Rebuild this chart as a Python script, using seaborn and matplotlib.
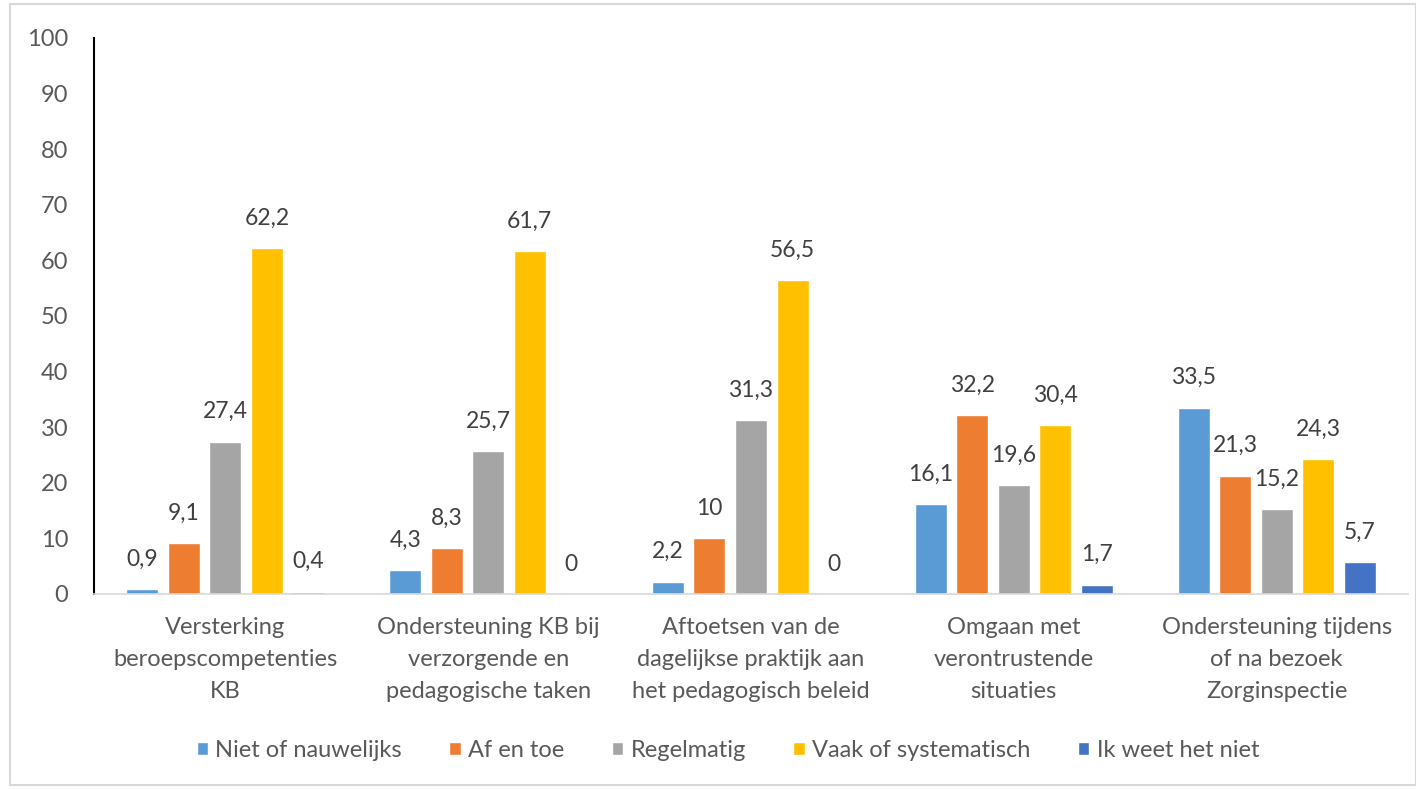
import matplotlib
matplotlib.use("Agg")
import matplotlib.pyplot as plt
import seaborn as sns
import pandas as pd
from matplotlib.patches import Rectangle

categories = [
    "Versterking\nberoepscompetenties\nKB",
    "Ondersteuning KB bij\nverzorgende en\npedagogische taken",
    "Aftoetsen van de\ndagelijkse praktijk aan\nhet pedagogisch beleid",
    "Omgaan met\nverontrustende\nsituaties",
    "Ondersteuning tijdens\nof na bezoek\nZorginspectie",
]
series_names = ["Niet of nauwelijks", "Af en toe", "Regelmatig",
                "Vaak of systematisch", "Ik weet het niet"]
niet_of_nauwelijks = [0.9, 4.3, 2.2, 16.1, 33.5]
af_en_toe = [9.1, 8.3, 10.0, 32.2, 21.3]
regelmatig = [27.4, 25.7, 31.3, 19.6, 15.2]
vaak_of_systematisch = [62.2, 61.7, 56.5, 30.4, 24.3]
ik_weet_het_niet = [0.4, 0.0, 0.0, 1.7, 5.7]
colors = ["#5B9BD5", "#ED7D31", "#A5A5A5", "#FFC000", "#4472C4"]
y_ticks = list(range(0, 101, 10))

series_values = [niet_of_nauwelijks, af_en_toe, regelmatig,
                 vaak_of_systematisch, ik_weet_het_niet]
rows = []
for name, vals in zip(series_names, series_values):
    for cat, v in zip(categories, vals):
        rows.append({"categorie": cat, "reeks": name, "waarde": v})
df = pd.DataFrame(rows)

sns.set_theme(style="white")
plt.rcParams["font.family"] = ["Lato", "DejaVu Sans"]

fig = plt.figure(figsize=(14.16, 7.89), dpi=100)
ax = fig.add_axes([94 / 1416, 1 - 594 / 789, (1408 - 94) / 1416, (594 - 38) / 789])

sns.barplot(data=df, x="categorie", y="waarde", hue="reeks",
            order=categories, hue_order=series_names,
            palette=colors, width=0.79, gap=0.23, saturation=1,
            errorbar=None, ax=ax, legend=True)

for cont in ax.containers:
    ax.bar_label(cont, fmt=lambda v: f"{v:g}".replace(".", ","),
                 padding=14, fontsize=16.5, color="#404040")

ax.set_ylim(0, 100)
ax.set_yticks(y_ticks)
ax.set_xlim(-0.5, len(categories) - 0.5)
ax.set_xlabel("")
ax.set_ylabel("")
ax.tick_params(axis="y", length=0, pad=18.5, labelsize=17, labelcolor="#595959")
ax.tick_params(axis="x", length=0, pad=16.5, labelsize=17, labelcolor="#595959")
for lbl in ax.get_xticklabels():
    lbl.set_linespacing(1.66)

for s in ["top", "right"]:
    ax.spines[s].set_visible(False)
ax.spines["left"].set_color("black")
ax.spines["left"].set_linewidth(1.5)
ax.spines["bottom"].set_color("#D9D9D9")
ax.spines["bottom"].set_linewidth(1.2)

handles, labels = ax.get_legend_handles_labels()
ax.legend_.remove()
fig.legend(handles, labels, loc="center", bbox_to_anchor=(0.514, 0.049),
           ncol=5, frameon=False, fontsize=17, labelcolor="#595959",
           handlelength=0.5, handleheight=0.5, handletextpad=0.3,
           columnspacing=2.0)

fig.patches.append(Rectangle((10 / 1416, 4 / 789), 1 - 10 / 1416, 1 - 8 / 789,
                             transform=fig.transFigure, fill=False,
                             edgecolor="#D9D9D9", linewidth=1.5))

fig.savefig("out.png", dpi=100)
